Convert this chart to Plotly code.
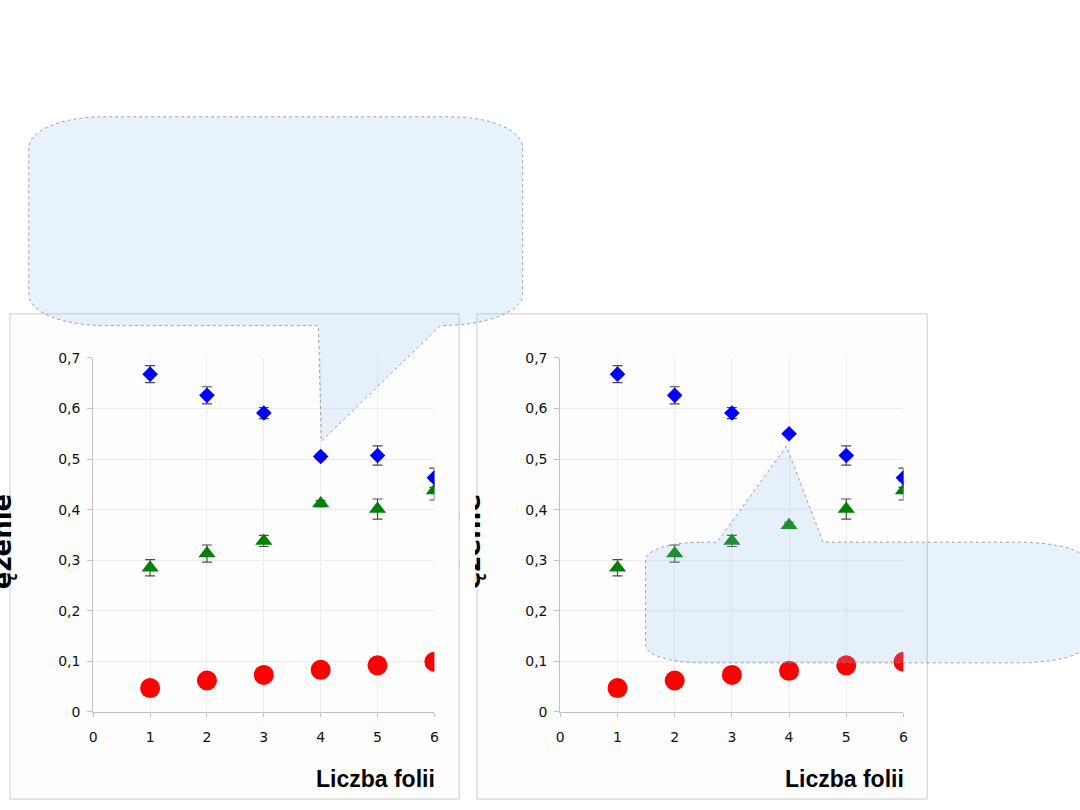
import plotly.graph_objects as go

W, H = 1080, 810

# ---------------- data ----------------
x_vals = [1, 2, 3, 4, 5, 6]

blue_left = [0.668, 0.626, 0.591, 0.505, 0.507, 0.463]
blue_left_err = [0.017, 0.017, 0.011, 0.006, 0.019, 0.019]
green_left = [0.285, 0.313, 0.338, 0.412, 0.401, 0.438]
green_left_err = [0.016, 0.017, 0.011, 0.006, 0.02, 0.019]
red_left = [0.047, 0.062, 0.073, 0.083, 0.092, 0.099]

blue_right = [0.668, 0.626, 0.591, 0.550, 0.507, 0.463]
blue_right_err = [0.017, 0.017, 0.011, 0.0, 0.019, 0.019]
green_right = [0.285, 0.313, 0.338, 0.369, 0.401, 0.438]
green_right_err = [0.016, 0.017, 0.011, 0.006, 0.02, 0.019]
red_right = [0.047, 0.062, 0.073, 0.081, 0.092, 0.099]

y_tickvals = [0, 0.1, 0.2, 0.3, 0.4, 0.5, 0.6, 0.7]
y_ticktext = ["0", "0,1", "0,2", "0,3", "0,4", "0,5", "0,6", "0,7"]
x_tickvals = [0, 1, 2, 3, 4, 5, 6]
x_ticktext = ["0", "1", "2", "3", "4", "5", "6"]

x_title = "Liczba folii"
y_title = "ężenie"


def px(x):
    return x / W


def py(y):
    return 1 - y / H


def path(cmds):
    out = []
    for c in cmds:
        if isinstance(c, str):
            out.append(c)
        else:
            out.append(f"{px(c[0]):.5f},{py(c[1]):.5f}")
    return " ".join(out)


fig = go.Figure()

ERR_COLOR = "#4a4a4a"


def add_panel(blue, berr, green, gerr, red, xa, ya):
    fig.add_trace(go.Scatter(
        x=x_vals, y=red, mode="markers", xaxis=xa, yaxis=ya,
        marker=dict(symbol="circle", size=20, color="#ff0000"),
        showlegend=False, hoverinfo="skip"))
    fig.add_trace(go.Scatter(
        x=x_vals, y=green, mode="markers", xaxis=xa, yaxis=ya,
        marker=dict(symbol="triangle-up", size=15, color="#008000"),
        error_y=dict(type="data", array=gerr, visible=True, color=ERR_COLOR,
                     thickness=1.2, width=5),
        showlegend=False, hoverinfo="skip"))
    fig.add_trace(go.Scatter(
        x=x_vals, y=blue, mode="markers", xaxis=xa, yaxis=ya,
        marker=dict(symbol="diamond", size=12, color="#0000ff"),
        error_y=dict(type="data", array=berr, visible=True, color=ERR_COLOR,
                     thickness=1.2, width=5),
        showlegend=False, hoverinfo="skip"))


add_panel(blue_left, blue_left_err, green_left, green_left_err, red_left, "x", "y")
add_panel(blue_right, blue_right_err, green_right, green_right_err, red_right, "x2", "y2")

tickfont = dict(family="DejaVu Sans", size=14, color="#111111")

xaxis_common = dict(
    range=[0, 6], tickvals=x_tickvals, ticktext=x_ticktext,
    showgrid=True, gridcolor="#ececec", gridwidth=1,
    showline=True, linecolor="#c0c0c0", linewidth=1,
    ticks="outside", ticklen=4, tickcolor="#c0c0c0",
    ticklabelstandoff=8,
    zeroline=False, tickfont=tickfont, fixedrange=True,
)
yaxis_common = dict(
    range=[0, 0.7], tickvals=y_tickvals, ticktext=y_ticktext,
    showgrid=True, gridcolor="#ececec", gridwidth=1,
    showline=True, linecolor="#c0c0c0", linewidth=1,
    ticks="outside", ticklen=5, tickcolor="#c0c0c0",
    ticklabelstandoff=4,
    zeroline=False, tickfont=tickfont, fixedrange=True,
)

y_dom = [py(718), py(357)]

fig.update_layout(
    width=W, height=H,
    margin=dict(l=0, r=0, t=0, b=0, pad=0),
    paper_bgcolor="white", plot_bgcolor="rgba(0,0,0,0)",
    xaxis=dict(domain=[px(90), px(434)], anchor="y", **xaxis_common),
    yaxis=dict(domain=y_dom, anchor="x", **yaxis_common),
    xaxis2=dict(domain=[px(561), px(907)], anchor="y2", **xaxis_common),
    yaxis2=dict(domain=y_dom, anchor="x2", **yaxis_common),
)

shapes = []
# chart panels (image frames)
for x0, x1 in [(6, 459), (477, 931)]:
    shapes.append(dict(type="rect", xref="paper", yref="paper",
                       x0=px(x0), x1=px(x1), y0=py(807), y1=py(312),
                       fillcolor="#fdfdfd", line=dict(color="#cccccc", width=1),
                       layer="below"))

callout_fill = "rgba(145,193,241,0.21)"
callout_line = dict(color="#8a8a8a", width=0.8, dash="dot")

c1 = path([
    "M", (100, 111), "L", (450, 111),
    "C", (492, 111), (523, 125), (523, 143),
    "L", (523, 292),
    "C", (523, 310), (485, 324), (440, 324),
    "L", (320, 442), "L", (317, 324), "L", (103, 324),
    "C", (58, 324), (25, 310), (25, 292),
    "L", (25, 143),
    "C", (25, 125), (58, 111), (100, 111), "Z",
])
c2 = path([
    "M", (703, 545), "L", (719, 545), "L", (789, 447), "L", (826, 545),
    "L", (1023, 545),
    "C", (1060, 545), (1090, 553), (1090, 563),
    "L", (1090, 650),
    "C", (1090, 660), (1060, 668), (1023, 668),
    "L", (703, 668),
    "C", (672, 668), (647, 660), (647, 650),
    "L", (647, 563),
    "C", (647, 553), (672, 545), (703, 545), "Z",
])
for p in (c1, c2):
    shapes.append(dict(type="path", xref="paper", yref="paper", path=p,
                       fillcolor=callout_fill, line=callout_line, layer="above"))

fig.update_layout(shapes=shapes)

title_font = dict(family="Liberation Sans", size=23, color="#000000")
annotations = [
    dict(text=f"<b>{x_title}</b>", xref="paper", yref="paper",
         x=px(437), y=py(787), xanchor="right", yanchor="middle",
         showarrow=False, font=title_font),
    dict(text=f"<b>{x_title}</b>", xref="paper", yref="paper",
         x=px(910), y=py(787), xanchor="right", yanchor="middle",
         showarrow=False, font=title_font),
]
for xc in (-2, 471):
    annotations.append(dict(
        text=f"<b>{y_title}</b>", xref="paper", yref="paper",
        x=px(xc), y=py(545), xanchor="center", yanchor="middle",
        textangle=-90, showarrow=False,
        font=dict(family="DejaVu Sans", size=26, color="#000000")))
# white gap between the two chart frames (crops the right axis title)
annotations.append(dict(
    text=" ", xref="paper", yref="paper", x=px(467), y=py(545),
    xanchor="center", yanchor="middle", width=15, height=140,
    bgcolor="white", borderpad=0, borderwidth=0, showarrow=False,
    font=dict(size=10)))
fig.update_layout(annotations=annotations)

post = (
    "document.documentElement.style.margin='0';"
    "document.documentElement.style.overflow='hidden';"
    "document.body.style.margin='0';"
    "document.body.style.overflow='hidden';"
)
fig.write_html("out.html", config={"displayModeBar": False}, post_script=post)
